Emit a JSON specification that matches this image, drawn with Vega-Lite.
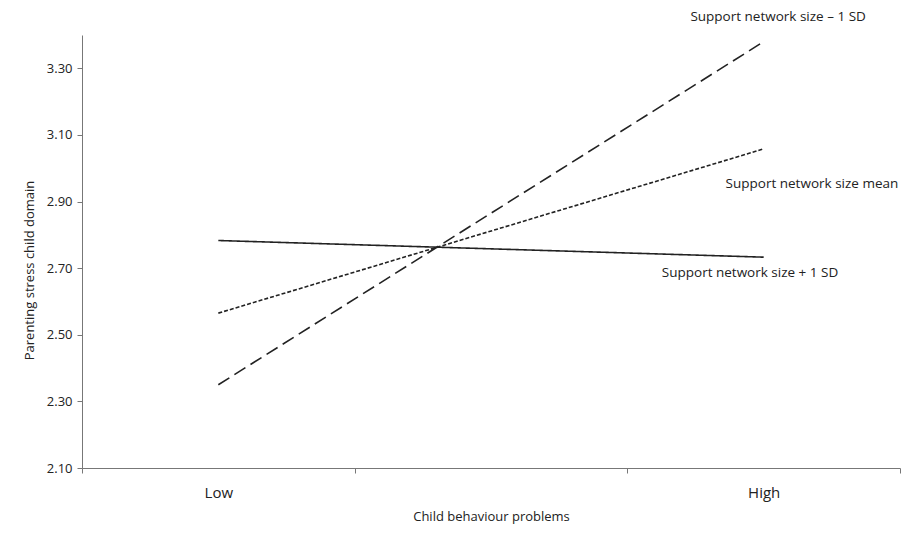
{
  "$schema": "https://vega.github.io/schema/vega-lite/v6.json",
  "width": 818,
  "height": 433,
  "autosize": {"type": "none"},
  "padding": {"left": 82, "top": 35, "right": 2, "bottom": 65},
  "background": "white",
  "config": {
    "view": {"stroke": null},
    "font": "Open Sans",
    "axis": {"grid": false}
  },
  "datasets": {
    "lines": [
      {"pos": 0.5, "stress": 2.35, "series": "Support network size – 1 SD"},
      {"pos": 2.5, "stress": 3.38, "series": "Support network size – 1 SD"},
      {"pos": 0.5, "stress": 2.565, "series": "Support network size mean"},
      {"pos": 2.5, "stress": 3.058, "series": "Support network size mean"},
      {"pos": 0.5, "stress": 2.783, "series": "Support network size + 1 SD"},
      {"pos": 2.5, "stress": 2.733, "series": "Support network size + 1 SD"}
    ],
    "labels": [
      {"pos": 2.553, "stress": 3.455, "text": "Support network size – 1 SD"},
      {"pos": 2.677, "stress": 2.954, "text": "Support network size mean"},
      {"pos": 2.45, "stress": 2.685, "text": "Support network size + 1 SD"}
    ]
  },
  "layer": [
    {
      "data": {"name": "lines"},
      "mark": {"type": "line", "color": "#222", "strokeWidth": 1.6, "clip": false},
      "encoding": {
        "x": {"field": "pos", "type": "quantitative", "scale": {"domain": [0, 3], "nice": false, "zero": false},
              "axis": {"orient": "bottom", "values": [0, 1, 2, 3], "labels": false, "ticks": true, "tickSize": 5, "title": null, "domain": true, "domainColor": "#777", "tickColor": "#777"}},
        "y": {"field": "stress", "type": "quantitative", "scale": {"domain": [2.1, 3.4], "nice": false, "zero": false},
              "axis": {"values": [2.1, 2.3, 2.5, 2.7, 2.9, 3.1, 3.3], "format": ".2f", "tickSize": 5, "labelPadding": 5, "labelFont": "Open Sans", "labelFontSize": 13, "labelColor": "#222", "domainColor": "#777", "tickColor": "#777",
                       "title": "Parenting stress child domain", "titleFont": "Open Sans", "titleFontSize": 13, "titleFontWeight": "normal", "titleColor": "#222", "titlePadding": 10, "titleY": 235}},
        "detail": {"field": "series"},
        "strokeDash": {"field": "series", "type": "nominal", "legend": null,
              "scale": {"domain": ["Support network size – 1 SD", "Support network size mean", "Support network size + 1 SD"], "range": [[13, 6], [4, 2], [1, 0]]}}
      }
    },
    {
      "data": {"name": "labels"},
      "mark": {"type": "text", "align": "center", "baseline": "middle", "font": "Open Sans", "fontSize": 13.5, "color": "#222", "clip": false},
      "encoding": {
        "x": {"field": "pos", "type": "quantitative",
              "axis": {"orient": "bottom", "values": [0.5, 2.5], "labelExpr": "datum.value == 0.5 ? 'Low' : 'High'", "ticks": false, "domain": false, "labelPadding": 17, "labelFont": "Open Sans", "labelFontSize": 15, "labelColor": "#222",
                       "title": "Child behaviour problems", "titleFont": "Open Sans", "titleFontSize": 13, "titleFontWeight": "normal", "titleColor": "#222", "titlePadding": 10}},
        "y": {"field": "stress", "type": "quantitative"},
        "text": {"field": "text"}
      }
    }
  ],
  "resolve": {"axis": {"x": "independent"}}
}
